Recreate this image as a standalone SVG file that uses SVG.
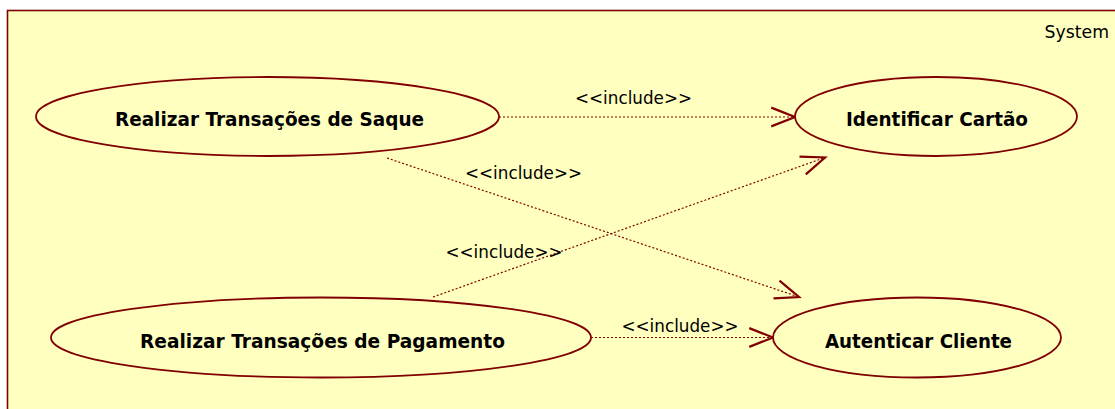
<svg xmlns="http://www.w3.org/2000/svg" width="1115" height="409" viewBox="0 0 1115 409">
<defs>
<style>
.uc{fill:#FFFFC0;stroke:#800000;stroke-width:1.8}
.lbl{font-family:"DejaVu Sans",Verdana,sans-serif;font-weight:bold;font-size:20px;fill:#000;text-anchor:middle}
.inc{font-family:"DejaVu Sans",Verdana,sans-serif;font-size:18px;fill:#000;text-anchor:middle}
.dep{fill:none;stroke:#800000;stroke-width:1.2;stroke-dasharray:2 2}
</style>
<marker id="open" markerUnits="userSpaceOnUse" markerWidth="30" markerHeight="30" refX="0" refY="0" viewBox="-22 -11 24 22" orient="auto" overflow="visible">
<path d="M-19,-7.5 L0,0 L-19,7.5" fill="none" stroke="#800000" stroke-width="1.8" stroke-dasharray="none"/>
</marker>
</defs>
<rect x="0" y="0" width="1115" height="409" fill="#FFFFFF"/>
<g id="system">
<rect x="7.5" y="10.5" width="1200" height="500" fill="#FFFFC0" stroke="#800000" stroke-width="1.6"/>
<text x="1109" y="37.5" font-family="DejaVu Sans,Verdana,sans-serif" font-size="18.5" text-anchor="end" fill="#000" textLength="64.5" lengthAdjust="spacingAndGlyphs">System</text>
</g>
<g id="connectors">
<line class="dep" x1="499" y1="117" x2="795" y2="117" marker-end="url(#open)"/>
<line class="dep" x1="387" y1="158" x2="799" y2="297" marker-end="url(#open)"/>
<line class="dep" x1="433" y1="297" x2="825" y2="157.5" marker-end="url(#open)"/>
<line class="dep" x1="591" y1="337.5" x2="773" y2="337.5" marker-end="url(#open)"/>
<text class="inc" x="633.5" y="104" textLength="117" lengthAdjust="spacingAndGlyphs">&lt;&lt;include&gt;&gt;</text>
<text class="inc" x="523.5" y="179" textLength="117" lengthAdjust="spacingAndGlyphs">&lt;&lt;include&gt;&gt;</text>
<text class="inc" x="504" y="258" textLength="117" lengthAdjust="spacingAndGlyphs">&lt;&lt;include&gt;&gt;</text>
<text class="inc" x="680" y="332" textLength="117" lengthAdjust="spacingAndGlyphs">&lt;&lt;include&gt;&gt;</text>
</g>
<g id="uc-saque">
<ellipse class="uc" cx="267.5" cy="116.5" rx="231.5" ry="39.5"/>
<text class="lbl" x="269.5" y="126" textLength="309" lengthAdjust="spacingAndGlyphs">Realizar Transações de Saque</text>
</g>
<g id="uc-identificar">
<ellipse class="uc" cx="936" cy="116.5" rx="141" ry="39.5"/>
<text class="lbl" x="937" y="126" textLength="182" lengthAdjust="spacingAndGlyphs">Identificar Cartão</text>
</g>
<g id="uc-pagamento">
<ellipse class="uc" cx="321" cy="337.5" rx="270" ry="40"/>
<text class="lbl" x="322.5" y="348" textLength="365" lengthAdjust="spacingAndGlyphs">Realizar Transações de Pagamento</text>
</g>
<g id="uc-autenticar">
<ellipse class="uc" cx="917" cy="337.5" rx="144" ry="40"/>
<text class="lbl" x="918.5" y="348" textLength="187" lengthAdjust="spacingAndGlyphs">Autenticar Cliente</text>
</g>
</svg>
